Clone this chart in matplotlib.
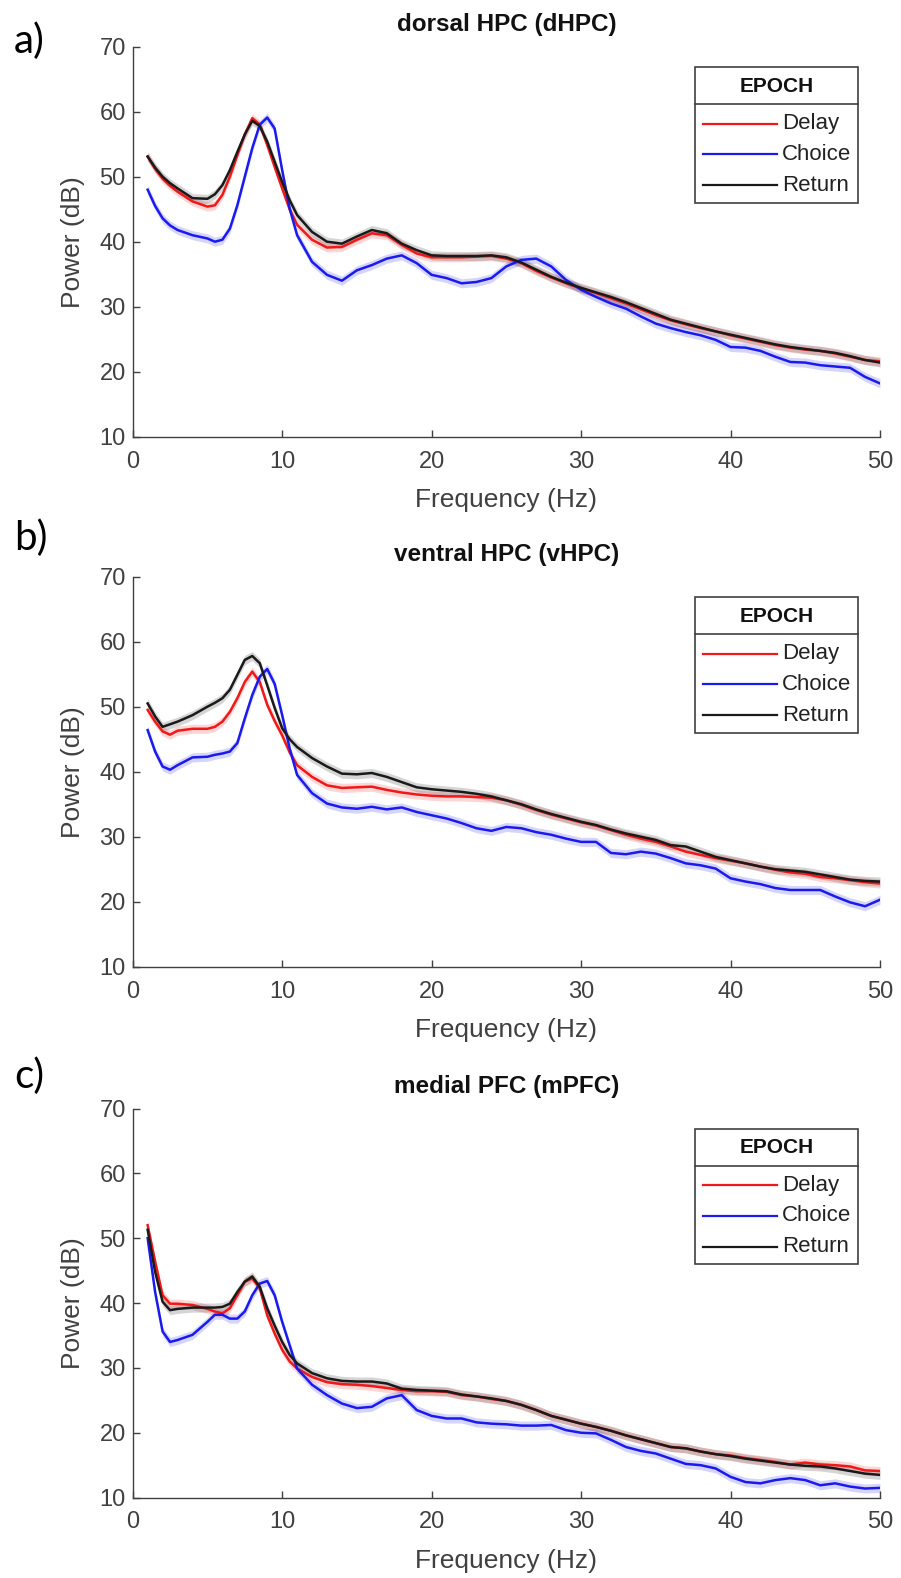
import numpy as np
import matplotlib
matplotlib.use("Agg")
import matplotlib.pyplot as plt
from matplotlib.patches import Rectangle

plt.rcParams['font.family'] = ['Liberation Sans', 'DejaVu Sans']

# frequency grid (Hz)
freq = [1, 1.5, 2, 2.5, 3, 4, 5, 5.5, 6, 6.5, 7, 7.5, 8, 8.5, 9, 9.5, 10, 10.5,
        11, 12, 13, 14, 15, 16, 17, 18, 19, 20, 21, 22, 23, 24, 25, 26, 27, 28,
        29, 30, 31, 32, 33, 34, 35, 36, 37, 38, 39, 40, 41, 42, 43, 44, 45, 46,
        47, 48, 49, 50]

# dorsal HPC
dhpc_delay = [53.1, 51.2, 49.7, 48.6, 47.7, 46.2, 45.4, 45.6, 47.2, 50.0, 53.3, 56.5, 59.0, 58.0, 54.9, 51.5, 48.2, 45.0,
              42.6, 40.3, 39.1, 39.2, 40.3, 41.3, 41.0, 39.5, 38.2, 37.6, 37.6, 37.6, 37.7, 37.8, 37.4, 36.7, 35.5, 34.5,
              33.6, 32.8, 32.1, 31.3, 30.5, 29.6, 28.7, 27.9, 27.3, 26.7, 26.2, 25.6, 25.1, 24.6, 24.1, 23.7, 23.4, 23.2,
              22.8, 22.3, 21.8, 21.6]
dhpc_choice = [48.0, 45.5, 43.6, 42.5, 41.8, 41.0, 40.5, 40.0, 40.3, 42.0, 45.6, 50.0, 54.4, 58.0, 59.1, 57.4, 51.0, 45.1,
               41.0, 36.9, 34.9, 34.0, 35.6, 36.4, 37.4, 37.9, 36.7, 34.9, 34.4, 33.6, 33.8, 34.4, 36.2, 37.2, 37.4, 36.2,
               34.1, 32.6, 31.5, 30.5, 29.7, 28.5, 27.4, 26.7, 26.1, 25.6, 24.9, 23.8, 23.7, 23.2, 22.3, 21.5, 21.4, 21.0,
               20.8, 20.6, 19.2, 18.2]
dhpc_return = [53.1, 51.4, 50.0, 49.0, 48.2, 46.7, 46.6, 47.3, 48.7, 51.0, 53.8, 56.5, 58.6, 57.8, 55.4, 52.3, 49.2, 46.4,
               44.1, 41.5, 40.0, 39.7, 40.8, 41.8, 41.3, 39.7, 38.7, 37.9, 37.8, 37.8, 37.8, 37.9, 37.6, 36.8, 35.7, 34.6,
               33.7, 32.9, 32.2, 31.5, 30.7, 29.8, 28.9, 28.0, 27.4, 26.8, 26.2, 25.7, 25.2, 24.7, 24.2, 23.8, 23.5, 23.2,
               22.9, 22.4, 21.8, 21.4]

# ventral HPC
vhpc_delay = [49.5, 47.7, 46.2, 45.7, 46.3, 46.6, 46.6, 46.9, 47.7, 49.2, 51.3, 53.8, 55.4, 53.8, 50.3, 47.8, 45.6, 43.0,
              41.0, 39.2, 37.9, 37.5, 37.6, 37.7, 37.2, 36.8, 36.5, 36.3, 36.2, 36.2, 36.1, 36.0, 35.6, 34.9, 34.1, 33.4,
              32.8, 32.2, 31.7, 31.0, 30.3, 29.7, 29.2, 28.5, 27.7, 27.2, 26.7, 26.3, 25.9, 25.4, 24.9, 24.5, 24.3, 23.8,
              23.6, 23.3, 23.0, 22.8]
vhpc_choice = [46.4, 43.1, 40.8, 40.3, 41.0, 42.2, 42.3, 42.6, 42.8, 43.1, 44.4, 48.2, 51.8, 54.6, 55.8, 53.5, 48.7, 43.6,
               39.5, 36.7, 35.1, 34.5, 34.3, 34.6, 34.2, 34.5, 33.8, 33.3, 32.8, 32.1, 31.3, 30.9, 31.5, 31.3, 30.7, 30.3,
               29.7, 29.2, 29.2, 27.5, 27.3, 27.7, 27.4, 26.7, 25.9, 25.6, 25.1, 23.6, 23.1, 22.7, 22.1, 21.8, 21.8, 21.8,
               20.8, 19.9, 19.3, 20.3]
vhpc_return = [50.5, 48.5, 46.9, 47.3, 47.7, 48.7, 50.0, 50.6, 51.3, 52.6, 54.9, 57.2, 57.8, 56.7, 53.3, 49.8, 46.7, 45.0,
               43.8, 42.1, 40.8, 39.7, 39.6, 39.8, 39.2, 38.4, 37.6, 37.3, 37.1, 36.9, 36.6, 36.2, 35.6, 35.0, 34.2, 33.5,
               32.9, 32.3, 31.8, 31.1, 30.5, 30.0, 29.5, 28.7, 28.5, 27.7, 26.9, 26.4, 25.9, 25.4, 25.0, 24.8, 24.6, 24.2,
               23.8, 23.4, 23.2, 23.1]

# medial PFC
mpfc_delay = [52.0, 46.4, 41.2, 39.9, 39.9, 39.7, 39.1, 38.7, 38.4, 39.2, 41.2, 43.3, 43.8, 42.3, 38.1, 35.3, 32.8, 31.0,
              29.9, 28.6, 27.8, 27.5, 27.4, 27.2, 26.9, 26.6, 26.4, 26.4, 26.3, 25.8, 25.6, 25.2, 24.9, 24.3, 23.5, 22.6,
              22.0, 21.4, 20.9, 20.3, 19.6, 19.0, 18.4, 17.8, 17.6, 17.1, 16.7, 16.5, 16.1, 15.8, 15.5, 15.1, 15.4, 15.1,
              15.0, 14.8, 14.2, 14.1]
mpfc_choice = [50.0, 41.7, 35.6, 34.0, 34.3, 35.1, 37.1, 38.2, 38.2, 37.6, 37.6, 38.7, 41.2, 43.0, 43.4, 41.2, 37.1, 33.5,
               29.9, 27.4, 25.8, 24.5, 23.8, 24.0, 25.3, 25.8, 23.5, 22.6, 22.2, 22.2, 21.6, 21.4, 21.3, 21.1, 21.1, 21.2,
               20.4, 20.0, 19.9, 18.9, 17.8, 17.2, 16.8, 16.0, 15.2, 15.0, 14.5, 13.2, 12.4, 12.2, 12.7, 13.0, 12.7, 11.9,
               12.2, 11.7, 11.4, 11.5]
mpfc_return = [51.3, 44.8, 40.2, 38.9, 39.1, 39.3, 39.3, 39.3, 39.4, 39.9, 41.7, 43.3, 44.1, 42.5, 39.2, 36.5, 34.0, 32.0,
               30.7, 29.2, 28.4, 28.0, 27.9, 27.9, 27.6, 26.8, 26.6, 26.5, 26.4, 25.9, 25.6, 25.3, 24.9, 24.3, 23.5, 22.6,
               22.0, 21.4, 20.9, 20.3, 19.6, 19.0, 18.4, 17.8, 17.6, 17.1, 16.7, 16.4, 16.0, 15.7, 15.4, 15.1, 14.9, 14.8,
               14.5, 14.1, 13.7, 13.5]

sem = 0.7  # half-width of the shaded error band (dB)

epochs = ['Delay', 'Choice', 'Return']
colors = ['#f01818', '#1a1aee', '#1a1a1a']
titles = ['dorsal HPC (dHPC)', 'ventral HPC (vHPC)', 'medial PFC (mPFC)']
letters = ['a)', 'b)', 'c)']
panels = [[dhpc_delay, dhpc_choice, dhpc_return],
          [vhpc_delay, vhpc_choice, vhpc_return],
          [mpfc_delay, mpfc_choice, mpfc_return]]

W, H = 901, 1578
fig = plt.figure(figsize=(W / 100, H / 100), dpi=100)

# axes boxes in pixels: (top, bottom)
ax_px = [(46.7, 436.7), (576.7, 966.7), (1108.5, 1497.6)]
letter_y = [41, 538, 1076]
x_left, x_right = 132.7, 880.0
gray = '#404040'

x = np.array(freq)
for i in range(3):
    top, bot = ax_px[i]
    ax = fig.add_axes([x_left / W, 1 - bot / H, (x_right - x_left) / W, (bot - top) / H])
    for series, c in zip(panels[i], colors):
        y = np.array(series)
        ax.fill_between(x, y - sem, y + sem, color=c, alpha=0.18, lw=0)
        ax.plot(x, y, color=c, lw=1.8)

    ax.set_xlim(0, 50)
    ax.set_ylim(10, 70)
    ax.set_xticks([0, 10, 20, 30, 40, 50])
    ax.set_yticks([10, 20, 30, 40, 50, 60, 70])
    ax.spines['top'].set_visible(False)
    ax.spines['right'].set_visible(False)
    for s in ['left', 'bottom']:
        ax.spines[s].set_color(gray)
        ax.spines[s].set_linewidth(1.0)
    ax.tick_params(axis='both', direction='in', length=5, width=1, color=gray,
                   labelcolor=gray, labelsize=17)
    ax.tick_params(axis='x', pad=10)
    ax.tick_params(axis='y', pad=5)

    ax.set_xlabel('Frequency (Hz)', fontsize=19, color=gray, va='center')
    ax.xaxis.set_label_coords(0.5, -63.5 / (bot - top))
    ax.set_ylabel('Power (dB)', fontsize=19, color=gray, va='center')
    ax.yaxis.set_label_coords(-60 / (x_right - x_left), 0.5)

    ax.text(0.5, 1 + 22 / (bot - top), titles[i], transform=ax.transAxes,
            ha='center', va='center', fontsize=17.5, fontweight='bold', color='#111111')

    fig.text(14 / W, 1 - letter_y[i] / H, letters[i], ha='left', va='center',
             fontsize=29, family=['Lato', 'DejaVu Sans'], color='black')

    # legend box with EPOCH header
    lx0, lx1, ly0, ly1, lsep = 0.7524, 0.9706, 0.600, 0.947, 0.853
    ax.add_patch(Rectangle((lx0, ly0), lx1 - lx0, ly1 - ly0, transform=ax.transAxes,
                           fill=True, facecolor='white', edgecolor=gray, lw=1.2, zorder=5))
    ax.plot([lx0, lx1], [lsep, lsep], transform=ax.transAxes, color=gray, lw=1.2, zorder=6)
    ax.text((lx0 + lx1) / 2, 0.899, 'EPOCH', transform=ax.transAxes, ha='center', va='center',
            fontsize=15, fontweight='bold', color='#111111', zorder=6)
    for j, (name, c) in enumerate(zip(epochs, colors)):
        yy = [0.803, 0.724, 0.645][j]
        ax.plot([0.763, 0.862], [yy, yy], transform=ax.transAxes, color=c, lw=1.6, zorder=6)
        ax.text(0.869, yy, name, transform=ax.transAxes, ha='left', va='center',
                fontsize=16, color='#222222', zorder=6)

fig.savefig('out.png', dpi=100)
